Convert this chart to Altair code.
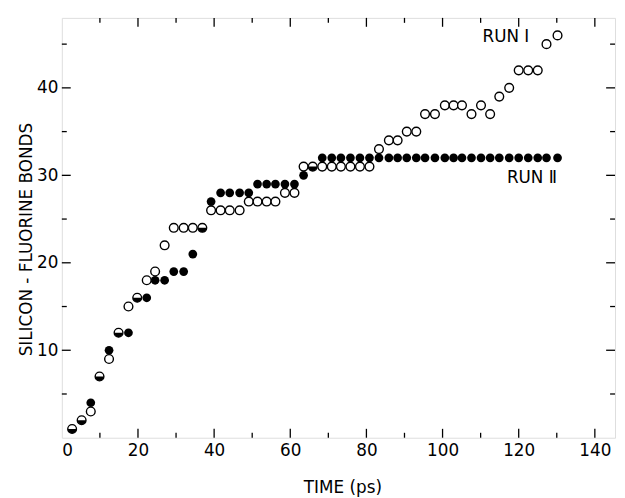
import altair as alt
import pandas as pd

# ---- data ----
time_ps = [2.7, 5.2, 7.6, 9.9, 12.4, 14.9, 17.5, 19.8, 22.3, 24.5,
           27.0, 29.4, 32.0, 34.4, 36.9, 39.2, 41.7, 44.1, 46.7, 49.1,
           51.4, 53.8, 56.1, 58.6, 61.1, 63.5, 65.9, 68.4, 70.9, 73.3,
           75.8, 78.3, 80.8, 83.3, 85.9, 88.2, 90.6, 93.1, 95.4, 98.0,
           100.6, 102.9, 105.1, 107.6, 110.1, 112.5, 114.9, 117.5, 120.0, 122.5,
           125.0, 127.3, 130.2]
run1_bonds = [1, 2, 3, 7, 9, 12, 15, 16, 18, 19,
              22, 24, 24, 24, 24, 26, 26, 26, 26, 27,
              27, 27, 27, 28, 28, 31, 31, 31, 31, 31,
              31, 31, 31, 33, 34, 34, 35, 35, 37, 37,
              38, 38, 38, 37, 38, 37, 39, 40, 42, 42,
              42, 45, 46]
run2_bonds = [1, 2, 4, 7, 10, 12, 12, 16, 16, 18,
              18, 19, 19, 21, 24, 27, 28, 28, 28, 28,
              29, 29, 29, 29, 29, 30, 31, 32, 32, 32,
              32, 32, 32, 32, 32, 32, 32, 32, 32, 32,
              32, 32, 32, 32, 32, 32, 32, 32, 32, 32,
              32, 32, 32]

x_major_ticks = [20, 40, 60, 80, 100, 120, 140]
x_minor_ticks = [10, 30, 50, 70, 90, 110, 130]
x_labels = [0, 20, 40, 60, 80, 100, 120, 140]
y_major_ticks = [10, 20, 30, 40]
y_minor_ticks = [5, 15, 25, 35, 45]

run_labels = ["RUN \u2160", "RUN \u2161"]
run_label_t = [110.5, 116.9]
run_label_v = [45.3, 29.1]

# ---- layout ----
W, H = 560, 425
FONT = "DejaVu Sans"
MAJ, MIN = 9, 5

xs = alt.Scale(domain=[0, 145.3], nice=False, zero=False)
ys = alt.Scale(domain=[0, 48], nice=False, zero=False)

df = pd.DataFrame({"t": time_ps, "r1": run1_bonds, "r2": run2_bonds})
both = df[df.r1 == df.r2]
only2 = df[df.r1 != df.r2]

x_axis = alt.Axis(values=x_labels, ticks=False, domain=False, grid=False,
                  labelFont=FONT, labelFontSize=17, labelColor="black", labelPadding=5,
                  title="TIME (ps)", titleFont=FONT, titleFontSize=17,
                  titleFontWeight="normal", titleColor="black",
                  titleX=284, titleY=55, titleBaseline="alphabetic", titleAlign="center")
y_axis = alt.Axis(values=y_major_ticks, ticks=False, domain=False, grid=False,
                  labelFont=FONT, labelFontSize=17, labelColor="black", labelPadding=4,
                  title="SILICON - FLUORINE BONDS", titleFont=FONT, titleFontSize=17,
                  titleFontWeight="normal", titleColor="black",
                  titleX=-31, titleY=224, titleBaseline="alphabetic", titleAlign="center",
                  titleAngle=270)

SZ = 78

filled = alt.Chart(only2).mark_point(shape="circle", filled=True, color="black",
                                     size=SZ, opacity=1).encode(
    x=alt.X("t:Q", scale=xs, axis=x_axis),
    y=alt.Y("r2:Q", scale=ys, axis=y_axis),
)
opened = alt.Chart(df).mark_point(shape="circle", filled=True, fill="white",
                                  stroke="black", strokeWidth=1.4,
                                  size=SZ, opacity=1).encode(
    x=alt.X("t:Q", scale=xs),
    y=alt.Y("r1:Q", scale=ys),
)
half = alt.Chart(both).mark_point(shape="M -1 0 A 1 1 0 0 0 1 0 Z", filled=True,
                                  color="black", size=SZ, opacity=1).encode(
    x=alt.X("t:Q", scale=xs),
    y=alt.Y("r2:Q", scale=ys),
)

def xticks(vals, length, side):
    d = pd.DataFrame({"v": vals})
    if side == "bottom":
        yy = dict(y=alt.value(H), y2=alt.value(H - length))
    else:
        yy = dict(y=alt.value(0), y2=alt.value(length))
    return alt.Chart(d).mark_rule(color="black", strokeWidth=1.3).encode(
        x=alt.X("v:Q", scale=xs), **yy)

def yticks(vals, length, side):
    d = pd.DataFrame({"v": vals})
    if side == "left":
        xx = dict(x=alt.value(0), x2=alt.value(length))
    else:
        xx = dict(x=alt.value(W), x2=alt.value(W - length))
    return alt.Chart(d).mark_rule(color="black", strokeWidth=1.3).encode(
        y=alt.Y("v:Q", scale=ys), **xx)

ticks = [xticks(x_major_ticks, MAJ, "bottom"), xticks(x_minor_ticks, MIN, "bottom"),
         xticks(x_major_ticks, MAJ, "top"), xticks(x_minor_ticks, MIN, "top"),
         yticks(y_major_ticks, MAJ, "left"), yticks(y_minor_ticks, MIN, "left"),
         yticks(y_major_ticks, MAJ, "right"), yticks(y_minor_ticks, MIN, "right")]

lab_df = pd.DataFrame({"t": run_label_t, "v": run_label_v, "txt": run_labels})
labels = alt.Chart(lab_df).mark_text(font=FONT, fontSize=17, color="black",
                                     align="left", baseline="alphabetic").encode(
    x=alt.X("t:Q", scale=xs), y=alt.Y("v:Q", scale=ys), text="txt:N")

chart = alt.layer(*ticks, filled, opened, half, labels).properties(
    width=W, height=H,
    autosize=alt.AutoSizeParams(type="none"),
    padding={"left": 54.5, "top": 7, "right": 2, "bottom": 58},
).configure_view(stroke="black", strokeWidth=1.6).configure(background="white")

chart.save("out.html", embed_options={"renderer": "svg", "actions": False})
